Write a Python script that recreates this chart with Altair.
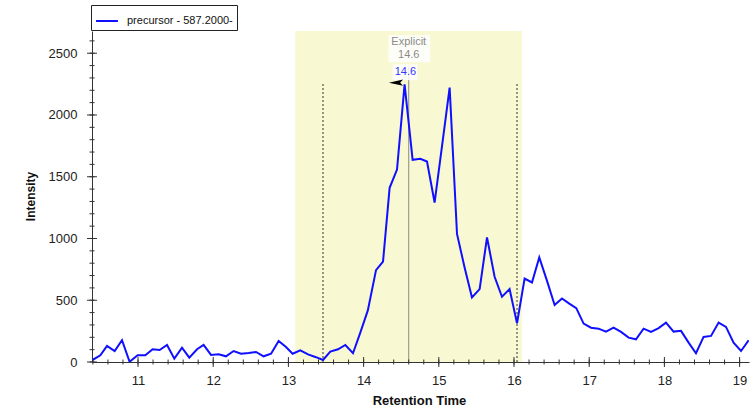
import altair as alt
import pandas as pd

# ---- data ----
rt = [10.388, 10.499, 10.588, 10.689, 10.787, 10.888, 10.995, 11.097, 11.194, 11.287,
      11.386, 11.483, 11.585, 11.682, 11.785, 11.872, 11.971, 12.072, 12.170, 12.271,
      12.370, 12.471, 12.569, 12.670, 12.769, 12.870, 12.968, 13.056, 13.158, 13.261,
      13.358, 13.460, 13.557, 13.660, 13.757, 13.859, 13.956, 14.056, 14.165, 14.258,
      14.346, 14.444, 14.545, 14.652, 14.754, 14.843, 14.944, 15.043, 15.144, 15.242,
      15.343, 15.441, 15.543, 15.641, 15.742, 15.840, 15.941, 16.040, 16.141, 16.239,
      16.336, 16.439, 16.540, 16.638, 16.735, 16.828, 16.926, 17.024, 17.125, 17.223,
      17.324, 17.423, 17.524, 17.622, 17.723, 17.822, 17.923, 18.021, 18.122, 18.221,
      18.322, 18.420, 18.521, 18.620, 18.721, 18.819, 18.920, 19.019, 19.120]
intensity = [14, 54, 130, 89, 176, 2, 54, 54, 103, 97,
             138, 27, 116, 35, 103, 138, 57, 62, 46, 89,
             67, 73, 81, 46, 67, 170, 122, 67, 95, 62,
             41, 16, 84, 103, 138, 71, 238, 418, 744, 812,
             1410, 1558, 2248, 1637, 1645, 1623, 1291, 1750, 2222, 1037,
             765, 522, 590, 1009, 690, 528, 590, 314, 676, 644,
             847, 657, 461, 514, 473, 436, 311, 278, 270, 246,
             278, 244, 197, 184, 270, 244, 274, 319, 246, 252,
             157, 71, 203, 211, 319, 284, 157, 89, 176]
series_name = "precursor - 587.2000-"

x_domain = [10.388, 19.125]
y_domain = [0, 2680]

shade_start, shade_end = 13.09, 16.106
boundaries = [13.46, 16.04]
boundary_top = 2256
explicit_rt = 14.6
explicit_top = 2400
peak_label_rt = 14.555

x_major = [11, 12, 13, 14, 15, 16, 17, 18, 19]
x_minor = [round(10.4 + 0.2 * i, 1) for i in range(44)]
y_major = [0, 500, 1000, 1500, 2000, 2500]
y_minor = list(range(0, 2700, 100))

W, H = 657, 331
FONT = "Liberation Sans"
AXC = "#333333"

df = pd.DataFrame({"rt": rt, "intensity": intensity, "series": series_name})

xs = alt.Scale(domain=x_domain, nice=False, zero=False)
ys = alt.Scale(domain=y_domain, nice=False)

x_axis = alt.Axis(
    values=x_major, format="d", ticks=False, tickSize=0, labelOverlap=False, labelFlush=False,
    labelPadding=12, labelBaseline="top", grid=False, title="Retention Time",
    titleX=327, titleY=38, titleBaseline="middle", titleFontSize=13,
)
y_axis = alt.Axis(
    values=y_major, format="d", ticks=False, tickSize=0, labelOverlap=False, labelFlush=False,
    labelPadding=15, grid=False, title="Intensity",
    titleX=-62, titleY=165, titleBaseline="middle", titleAlign="center", titleFontSize=12,
)

shade = alt.Chart(pd.DataFrame({"a": [shade_start], "b": [shade_end],
                                "y0": [y_domain[0]], "y1": [y_domain[1]]})).mark_rect(
    color="#f8f8d3").encode(
    x=alt.X("a:Q", scale=xs, axis=x_axis), x2="b:Q",
    y=alt.Y("y0:Q", scale=ys, axis=y_axis), y2="y1:Q")

dashed = alt.Chart(pd.DataFrame({"x": boundaries, "y0": [0, 0], "y1": [boundary_top] * 2})).mark_rule(
    color="#333333", strokeDash=[2, 2], strokeWidth=1).encode(
    x=alt.X("x:Q", scale=xs), y=alt.Y("y0:Q", scale=ys), y2="y1:Q")

vline = alt.Chart(pd.DataFrame({"x": [explicit_rt], "y0": [0], "y1": [explicit_top]})).mark_rule(
    color="#8a8a8a", strokeWidth=1).encode(
    x=alt.X("x:Q", scale=xs), y=alt.Y("y0:Q", scale=ys), y2="y1:Q")

line = alt.Chart(df).mark_line(strokeWidth=2, clip=True).encode(
    x=alt.X("rt:Q", scale=xs),
    y=alt.Y("intensity:Q", scale=ys),
    color=alt.Color("series:N", scale=alt.Scale(domain=[series_name], range=["#1010ff"]),
                    legend=alt.Legend(title=None, orient="none", legendX=-1, legendY=-26,
                                      symbolType="stroke", symbolSize=480, symbolStrokeWidth=2,
                                      strokeColor="#222222", fillColor="white", padding=4,
                                      labelFontSize=11, labelFont=FONT, labelColor="#111",
                                      labelOffset=8, rowPadding=0)),
)

# crossing tick marks (major and minor) drawn as rules
xtick_major = alt.Chart(pd.DataFrame({"v": x_major})).mark_rule(color=AXC, strokeWidth=1).encode(
    x=alt.X("v:Q", scale=xs), y=alt.value(H - 5), y2=alt.value(H + 5))
xtick_minor = alt.Chart(pd.DataFrame({"v": x_minor})).mark_rule(color=AXC, strokeWidth=1).encode(
    x=alt.X("v:Q", scale=xs), y=alt.value(H - 2.5), y2=alt.value(H + 2.5))
ytick_major = alt.Chart(pd.DataFrame({"v": y_major})).mark_rule(color=AXC, strokeWidth=1).encode(
    y=alt.Y("v:Q", scale=ys), x=alt.value(-5), x2=alt.value(5))
ytick_minor = alt.Chart(pd.DataFrame({"v": y_minor})).mark_rule(color=AXC, strokeWidth=1).encode(
    y=alt.Y("v:Q", scale=ys), x=alt.value(-2.5), x2=alt.value(2.5))

# annotation boxes
boxes = alt.Chart(pd.DataFrame({
    "x0": [14.33, 14.385], "x1": [14.885, 14.715],
    "y0": [2427, 2282], "y1": [2646, 2410]})).mark_rect(color="white", opacity=0.85).encode(
    x=alt.X("x0:Q", scale=xs), x2="x1:Q", y=alt.Y("y0:Q", scale=ys), y2="y1:Q")

gray_text = alt.Chart(pd.DataFrame({"x": [explicit_rt, explicit_rt], "y": [2589, 2484],
                                    "t": ["Explicit", "14.6"]})).mark_text(
    font=FONT, fontSize=11, color="#8a8a8a", baseline="middle").encode(
    x=alt.X("x:Q", scale=xs), y=alt.Y("y:Q", scale=ys), text="t:N")

blue_text = alt.Chart(pd.DataFrame({"x": [peak_label_rt], "y": [2346], "t": ["14.6"]})).mark_text(
    font=FONT, fontSize=11, color="#3535ff", baseline="middle").encode(
    x=alt.X("x:Q", scale=xs), y=alt.Y("y:Q", scale=ys), text="t:N")

arrow = alt.Chart(pd.DataFrame({"x": [14.43], "y": [2262]})).mark_point(
    shape="M -1 0 L 1 -0.45 L 0.6 0 L 1 0.45 Z", filled=True, color="black", opacity=1, size=200).encode(
    x=alt.X("x:Q", scale=xs), y=alt.Y("y:Q", scale=ys))

chart = alt.layer(shade, dashed, vline, line, xtick_minor, xtick_major, ytick_minor, ytick_major,
                  boxes, gray_text, blue_text, arrow).properties(
    width=W, height=H,
    padding={"left": 92, "top": 31, "right": 7, "bottom": 51},
    autosize=alt.AutoSizeParams(type="none"),
    background="white",
).configure_view(stroke=None).configure_axis(
    domainColor=AXC, labelColor="#222222",
    labelFont=FONT, labelFontSize=13, titleFont=FONT, titleFontWeight="bold",
    titleColor="#111111",
)

chart.save("out.html", embed_options={"renderer": "svg", "actions": False})
